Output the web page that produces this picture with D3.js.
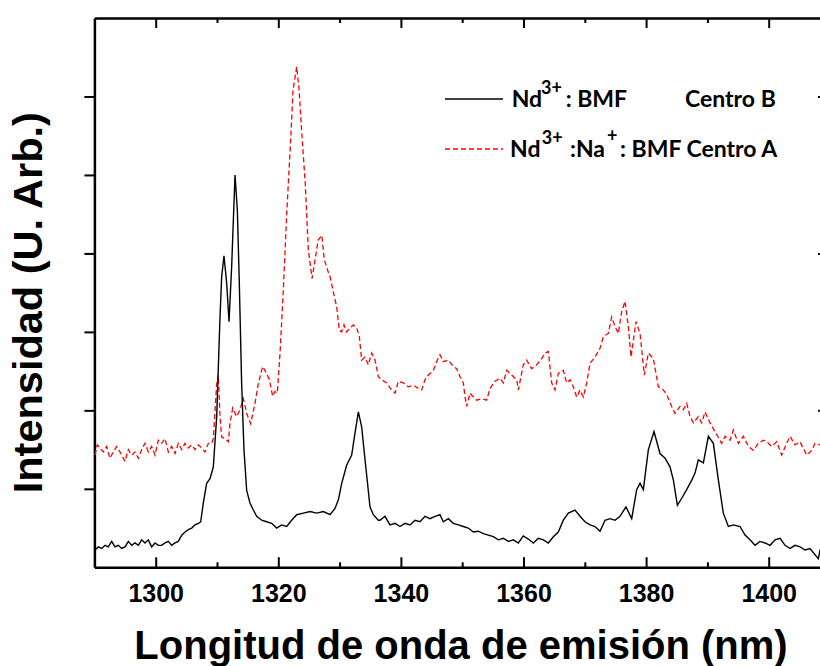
<!DOCTYPE html>
<html>
<head>
<meta charset="utf-8">
<script src="https://cdn.jsdelivr.net/npm/d3@7"></script>
<style>
  body { margin: 0; background: #fff; }
  svg { display: block; }
</style>
</head>
<body>
<div id="chart"></div>
<script>
// emission spectra (intensity in arbitrary units)
const xMajorTicks = [1300, 1320, 1340, 1360, 1380, 1400];
const xMinorTicks = [1310, 1330, 1350, 1370, 1390];
const yTicks = [1, 2, 3, 4, 5, 6];

// Nd3+: BMF, centro B (solid black)
const centroBWave = [
  1290.10, 1290.64, 1291.18, 1291.73, 1292.27, 1292.82, 1293.36, 1293.90, 1294.45, 1294.99,
  1295.54, 1296.08, 1296.62, 1297.17, 1297.71, 1298.25, 1298.80, 1299.34, 1299.89, 1300.43,
  1300.97, 1301.52, 1302.06, 1302.60, 1303.15, 1303.69, 1304.24, 1304.78, 1305.32, 1305.87,
  1306.41, 1306.95, 1307.34, 1307.77, 1308.31, 1308.86, 1309.40, 1309.95, 1310.49, 1310.76,
  1311.14, 1311.58, 1311.96, 1312.39, 1312.94, 1313.32, 1313.64, 1314.02, 1314.40, 1314.84,
  1315.38, 1315.93, 1316.47, 1317.29, 1318.10, 1318.92, 1319.73, 1320.55, 1321.37, 1322.18,
  1323.00, 1324.08, 1325.17, 1326.26, 1327.35, 1328.44, 1329.25, 1329.80, 1330.34, 1331.15,
  1331.97, 1332.51, 1333.06, 1333.60, 1334.15, 1334.96, 1335.50, 1336.32, 1336.59, 1337.41,
  1338.22, 1339.04, 1339.85, 1340.67, 1341.49, 1342.30, 1343.12, 1343.93, 1344.75, 1345.56,
  1346.38, 1346.92, 1347.74, 1348.55, 1349.37, 1350.19, 1351.00, 1351.82, 1352.63, 1353.45,
  1354.26, 1355.08, 1355.90, 1356.71, 1357.53, 1358.34, 1359.16, 1359.97, 1360.79, 1361.61,
  1362.42, 1363.24, 1364.05, 1364.87, 1365.68, 1366.50, 1367.32, 1368.40, 1369.22, 1370.03,
  1370.85, 1371.67, 1372.48, 1373.30, 1374.11, 1374.93, 1375.74, 1376.72, 1377.65, 1378.46,
  1379.01, 1379.55, 1380.37, 1381.29, 1382.27, 1383.09, 1383.90, 1384.45, 1385.10, 1385.81,
  1386.62, 1387.44, 1387.98, 1388.52, 1389.34, 1390.16, 1390.97, 1391.79, 1392.60, 1393.42,
  1394.23, 1395.32, 1396.14, 1396.95, 1397.77, 1398.58, 1399.40, 1400.22, 1401.03, 1401.85,
  1402.67, 1403.48, 1404.30, 1405.11, 1405.93, 1406.74, 1407.56, 1408.10, 1408.37, 1410.00];
const centroBInt = [
  0.22, 0.26, 0.24, 0.28, 0.26, 0.33, 0.26, 0.28, 0.24, 0.26,
  0.33, 0.28, 0.31, 0.28, 0.35, 0.31, 0.35, 0.26, 0.31, 0.28,
  0.28, 0.31, 0.33, 0.28, 0.31, 0.33, 0.41, 0.45, 0.48, 0.50,
  0.54, 0.56, 0.58, 0.82, 1.07, 1.13, 1.28, 1.92, 3.19, 3.70,
  3.97, 3.62, 3.13, 3.83, 5.00, 4.55, 3.62, 2.34, 1.50, 0.98,
  0.82, 0.73, 0.65, 0.60, 0.58, 0.56, 0.50, 0.54, 0.52, 0.60,
  0.67, 0.69, 0.71, 0.69, 0.71, 0.67, 0.75, 0.86, 1.07, 1.30,
  1.43, 1.71, 1.98, 1.79, 1.37, 0.77, 0.67, 0.60, 0.60, 0.65,
  0.54, 0.56, 0.52, 0.56, 0.54, 0.60, 0.58, 0.65, 0.62, 0.65,
  0.67, 0.58, 0.62, 0.56, 0.54, 0.52, 0.50, 0.45, 0.46, 0.43,
  0.41, 0.39, 0.35, 0.37, 0.33, 0.35, 0.31, 0.40, 0.36, 0.31,
  0.37, 0.35, 0.31, 0.39, 0.45, 0.60, 0.69, 0.73, 0.65, 0.58,
  0.54, 0.52, 0.46, 0.60, 0.62, 0.60, 0.65, 0.77, 0.62, 0.99,
  1.07, 0.99, 1.50, 1.73, 1.45, 1.39, 1.28, 1.11, 0.79, 0.88,
  0.99, 1.11, 1.20, 1.37, 1.33, 1.67, 1.58, 1.11, 0.69, 0.52,
  0.54, 0.52, 0.41, 0.35, 0.28, 0.33, 0.31, 0.28, 0.35, 0.37,
  0.28, 0.24, 0.28, 0.26, 0.22, 0.24, 0.16, 0.11, 0.22, 0.24];

// Nd3+:Na+: BMF, centro A (red dashed)
const centroAWave = [
  1290.10, 1290.48, 1290.91, 1291.46, 1292.00, 1292.54, 1293.09, 1293.63, 1294.18, 1294.99,
  1295.54, 1296.08, 1296.62, 1297.17, 1297.71, 1298.25, 1298.80, 1299.34, 1299.89, 1300.43,
  1300.97, 1301.52, 1302.06, 1302.60, 1303.15, 1303.69, 1304.24, 1304.78, 1305.32, 1305.87,
  1306.41, 1306.95, 1307.50, 1308.04, 1308.59, 1309.13, 1309.40, 1309.95, 1310.22, 1310.49,
  1310.76, 1311.30, 1311.85, 1312.12, 1312.56, 1313.21, 1313.75, 1314.30, 1314.84, 1315.49,
  1316.20, 1316.74, 1317.45, 1318.10, 1318.54, 1319.08, 1319.46, 1319.84, 1320.28, 1320.82,
  1321.37, 1322.10, 1322.40, 1323.00, 1323.40, 1323.80, 1324.40, 1324.90, 1325.20, 1325.50,
  1326.00, 1326.50, 1327.10, 1327.50, 1328.20, 1328.40, 1329.00, 1329.52, 1329.96, 1330.34,
  1330.72, 1331.15, 1331.70, 1332.24, 1332.78, 1333.22, 1333.60, 1334.14, 1334.69, 1335.23,
  1335.78, 1336.32, 1336.86, 1337.68, 1338.49, 1339.04, 1339.58, 1340.40, 1341.21, 1342.03,
  1342.84, 1343.39, 1343.93, 1344.48, 1345.29, 1345.94, 1346.38, 1346.92, 1347.74, 1348.55,
  1349.10, 1349.64, 1350.19, 1350.46, 1350.73, 1351.27, 1351.82, 1352.36, 1353.18, 1353.99,
  1354.54, 1355.35, 1356.17, 1356.71, 1357.26, 1358.07, 1358.89, 1359.16, 1359.97, 1360.52,
  1361.33, 1362.15, 1362.97, 1363.51, 1364.05, 1364.60, 1365.14, 1365.68, 1366.50, 1367.04,
  1367.59, 1368.13, 1368.68, 1369.22, 1369.76, 1370.31, 1370.85, 1371.67, 1372.48, 1373.03,
  1373.84, 1374.39, 1374.93, 1375.47, 1376.02, 1376.56, 1377.10, 1377.54, 1378.36, 1379.01,
  1379.71, 1380.37, 1381.18, 1382.00, 1382.81, 1383.36, 1384.17, 1384.72, 1385.53, 1386.08,
  1386.62, 1387.16, 1387.71, 1388.52, 1389.07, 1389.61, 1390.43, 1391.52, 1392.33, 1392.88,
  1393.69, 1394.23, 1395.05, 1395.87, 1396.68, 1397.50, 1398.31, 1399.13, 1399.67, 1400.49,
  1401.30, 1402.12, 1402.93, 1403.48, 1404.30, 1405.11, 1406.20, 1407.01, 1407.56, 1408.37, 1410.00];
const centroAInt = [
  1.43, 1.56, 1.52, 1.47, 1.54, 1.39, 1.47, 1.54, 1.47, 1.35,
  1.50, 1.43, 1.47, 1.39, 1.50, 1.58, 1.47, 1.54, 1.43, 1.62,
  1.58, 1.64, 1.47, 1.54, 1.45, 1.58, 1.50, 1.58, 1.52, 1.56,
  1.50, 1.56, 1.52, 1.47, 1.58, 1.58, 1.64, 2.34, 2.45, 1.92,
  1.66, 1.64, 1.60, 1.83, 2.03, 1.92, 2.01, 2.15, 1.96, 1.83,
  2.09, 2.34, 2.56, 2.47, 2.39, 2.18, 2.24, 2.22, 2.73, 3.53,
  4.50, 5.57, 6.08, 6.38, 6.08, 5.57, 4.89, 4.04, 3.87, 3.68,
  3.92, 4.17, 4.23, 3.92, 3.75, 3.72, 3.50, 3.32, 3.02, 3.00,
  3.09, 3.00, 3.05, 3.09, 3.05, 2.94, 2.64, 2.68, 2.58, 2.73,
  2.64, 2.43, 2.39, 2.35, 2.26, 2.22, 2.37, 2.35, 2.30, 2.32,
  2.28, 2.26, 2.39, 2.45, 2.51, 2.64, 2.71, 2.62, 2.64, 2.56,
  2.53, 2.43, 2.35, 2.17, 2.05, 2.22, 2.17, 2.13, 2.15, 2.13,
  2.28, 2.37, 2.41, 2.35, 2.51, 2.45, 2.39, 2.26, 2.58, 2.64,
  2.53, 2.58, 2.66, 2.73, 2.75, 2.35, 2.26, 2.47, 2.51, 2.35,
  2.39, 2.30, 2.17, 2.26, 2.17, 2.35, 2.60, 2.68, 2.79, 2.94,
  2.98, 3.19, 3.07, 2.98, 3.26, 3.39, 3.07, 2.68, 3.13, 2.98,
  2.45, 2.73, 2.66, 2.30, 2.26, 2.20, 2.05, 1.96, 2.05, 2.01,
  2.09, 1.92, 1.84, 1.92, 1.84, 1.98, 1.84, 1.69, 1.58, 1.67,
  1.62, 1.75, 1.58, 1.67, 1.54, 1.49, 1.58, 1.62, 1.60, 1.54,
  1.60, 1.43, 1.58, 1.67, 1.56, 1.60, 1.43, 1.49, 1.58, 1.56, 1.50];

const width = 820;
const height = 666;

const svg = d3.select('#chart')
  .append('svg')
  .attr('width', width)
  .attr('height', height)
  .attr('font-family', '"Liberation Sans", Arial, sans-serif');

const x = d3.scaleLinear().domain([1290, 1410]).range([94.4, 830]);
const y = d3.scaleLinear().domain([0, 7]).range([567.3, 18]);

const plotLeft = x.range()[0], plotRight = x.range()[1];
const plotTop = y.range()[1], plotBottom = y.range()[0];

function styleAxis(g) {
  g.select('.domain').attr('stroke', '#000').attr('stroke-width', 2.5);
  g.selectAll('.tick line').attr('stroke', '#000').attr('stroke-width', 2);
}

// bottom axis, labelled majors + short minors
svg.append('g')
  .attr('transform', `translate(0,${plotBottom})`)
  .call(d3.axisBottom(x).tickValues(xMajorTicks).tickSizeInner(-10).tickSizeOuter(0)
    .tickPadding(16.6).tickFormat(d3.format('d')))
  .call(styleAxis)
  .call(g => g.selectAll('.tick text')
    .attr('font-size', 25).attr('font-weight', 'bold').attr('fill', '#000'));
svg.append('g')
  .attr('transform', `translate(0,${plotBottom})`)
  .call(d3.axisBottom(x).tickValues(xMinorTicks).tickSizeInner(-5).tickSizeOuter(0).tickFormat(''))
  .call(styleAxis)
  .call(g => g.select('.domain').remove());

// top axis
svg.append('g')
  .attr('transform', `translate(0,${plotTop})`)
  .call(d3.axisTop(x).tickValues(xMajorTicks).tickSizeInner(-10).tickSizeOuter(0).tickFormat(''))
  .call(styleAxis);
svg.append('g')
  .attr('transform', `translate(0,${plotTop})`)
  .call(d3.axisTop(x).tickValues(xMinorTicks).tickSizeInner(-5).tickSizeOuter(0).tickFormat(''))
  .call(styleAxis)
  .call(g => g.select('.domain').remove());

// left axis, ticks outward, no labels
svg.append('g')
  .attr('transform', `translate(${plotLeft},0)`)
  .call(d3.axisLeft(y).tickValues(yTicks).tickSizeInner(10).tickSizeOuter(0).tickFormat(''))
  .call(styleAxis);

// right axis sits just past the picture edge
svg.append('g')
  .attr('transform', `translate(${plotRight},0)`)
  .call(d3.axisRight(y).tickValues(yTicks).tickSizeOuter(0).tickFormat(''))
  .call(styleAxis)
  .call(g => g.selectAll('.tick line').attr('x2', d => d % 2 === 0 ? -12 : -4));

// spectra
const line = d3.line()
  .x(d => x(d[0]))
  .y(d => y(d[1]));

svg.append('path')
  .datum(d3.zip(centroAWave, centroAInt))
  .attr('fill', 'none')
  .attr('stroke', '#ff0000')
  .attr('stroke-width', 1.3)
  .attr('stroke-dasharray', '5,3')
  .attr('d', line);

svg.append('path')
  .datum(d3.zip(centroBWave, centroBInt))
  .attr('fill', 'none')
  .attr('stroke', '#000')
  .attr('stroke-width', 1.4)
  .attr('d', line);

// legend
const legend = svg.append('g')
  .attr('font-family', 'Lato, "Open Sans", sans-serif')
  .attr('font-weight', 'bold')
  .attr('fill', '#000');

legend.append('line')
  .attr('x1', 445).attr('x2', 503).attr('y1', 99).attr('y2', 99)
  .attr('stroke', '#000').attr('stroke-width', 1.3);
legend.append('line')
  .attr('x1', 445).attr('x2', 503).attr('y1', 149).attr('y2', 149)
  .attr('stroke', '#ff0000').attr('stroke-width', 1.3).attr('stroke-dasharray', '5,3');

const row1 = legend.append('text').attr('y', 106.7).attr('font-size', 23);
row1.append('tspan').attr('x', 511.7).text('Nd');
row1.append('tspan').attr('x', 541).attr('y', 93.5).attr('font-size', 18).text('3+');
row1.append('tspan').attr('x', 565.7).attr('y', 106.7).text(': BMF');
row1.append('tspan').attr('x', 685).text('Centro B');

const row2 = legend.append('text').attr('y', 156.7).attr('font-size', 23);
row2.append('tspan').attr('x', 510).text('Nd');
row2.append('tspan').attr('x', 541.7).attr('y', 143.5).attr('font-size', 18).text('3+');
row2.append('tspan').attr('x', 570).attr('y', 156.7).text(':Na');
row2.append('tspan').attr('x', 607).attr('y', 142).attr('font-size', 18).text('+');
row2.append('tspan').attr('x', 620).attr('y', 156.7).text(': BMF Centro A');

// axis titles
svg.append('text')
  .attr('x', 461).attr('y', 659)
  .attr('text-anchor', 'middle')
  .attr('font-size', 40).attr('font-weight', 'bold')
  .text('Longitud de onda de emisión (nm)');

svg.append('text')
  .attr('transform', 'translate(41.7,493.3) rotate(-90)')
  .attr('text-anchor', 'start')
  .attr('font-size', 41.5).attr('font-weight', 'bold')
  .text('Intensidad (U. Arb.)');
</script>
</body>
</html>
